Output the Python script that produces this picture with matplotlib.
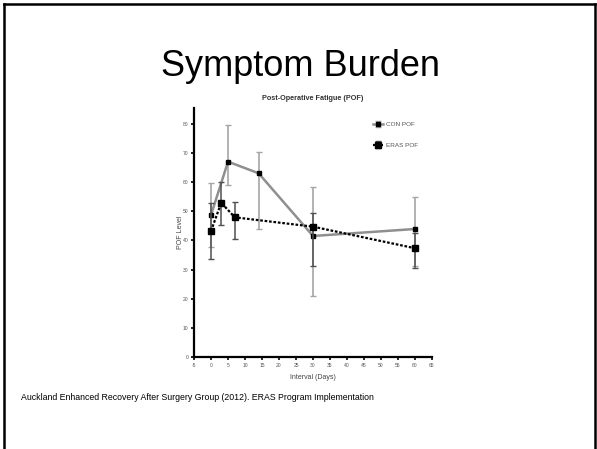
import matplotlib
matplotlib.use("Agg")
import matplotlib.pyplot as plt
from matplotlib.lines import Line2D
import numpy as np

plt.rcParams['font.family'] = ['Liberation Sans', 'DejaVu Sans']

# Data
con_x = [0, 5, 14, 30, 60]
con_y = [48.7, 67.0, 63.0, 41.5, 43.9]
con_hi = [59.6, 79.6, 70.4, 58.2, 55.0]
con_lo = [37.8, 59.0, 43.9, 20.9, 31.2]

eras_x = [0, 3, 7, 30, 60]
eras_y = [43.2, 52.9, 47.9, 44.7, 37.3]
eras_hi = [52.9, 60.1, 53.3, 49.3, 42.6]
eras_lo = [33.6, 45.3, 40.3, 31.2, 30.4]

x_ticks = list(range(-5, 70, 5))
y_ticks = list(range(0, 90, 10))

fig = plt.figure(figsize=(5.97, 4.49), dpi=100)
fig.patch.set_facecolor('white')

# slide frame
fig.add_artist(Line2D([0.006, 0.006], [0.0, 0.992], transform=fig.transFigure, color='black', lw=1.8))
fig.add_artist(Line2D([0.006, 0.996], [0.992, 0.992], transform=fig.transFigure, color='black', lw=1.8))
fig.add_artist(Line2D([0.996, 0.996], [0.0, 0.992], transform=fig.transFigure, color='black', lw=1.8))

fig.text(0.503, 0.851, "Symptom Burden", ha='center', va='center', fontsize=26, color='black')
fig.text(0.036, 0.114, "Auckland Enhanced Recovery After Surgery Group (2012). ERAS Program Implementation",
         ha='left', va='center', fontsize=6.3, color='black')

ax = fig.add_axes([0.325, 0.2049, 0.3986, 0.5546])

con_err = [np.array(con_y) - np.array(con_lo), np.array(con_hi) - np.array(con_y)]
eras_err = [np.array(eras_y) - np.array(eras_lo), np.array(eras_hi) - np.array(eras_y)]

ax.errorbar(con_x, con_y, yerr=con_err, color='#8f8f8f', lw=1.8, ecolor='#a5a5a5', elinewidth=1.2,
            capsize=2.2, capthick=1.0, marker='s', markersize=2.8, markerfacecolor='black',
            markeredgecolor='black', label='CON POF', zorder=3)
ax.errorbar(eras_x, eras_y, yerr=eras_err, color='black', lw=1.6, ls=(0, (1.2, 0.8)), ecolor='#505050',
            elinewidth=1.1, capsize=2.2, capthick=1.0, marker='s', markersize=4.3,
            markerfacecolor='black', markeredgecolor='black', label='ERAS POF', zorder=4)

ax.set_xlim(-5, 65)
ax.set_ylim(0, 85.4)
ax.set_xticks(x_ticks)
ax.set_yticks(y_ticks)
ax.set_xticklabels([str(t) for t in x_ticks], fontsize=3.6, color='#555555')
ax.set_yticklabels([str(t) for t in y_ticks], fontsize=3.6, color='#555555')
ax.tick_params(axis='both', direction='out', length=2.5, width=1.2, pad=1.5, colors='black',
               labelcolor='#555555')
for s in ['top', 'right']:
    ax.spines[s].set_visible(False)
for s in ['left', 'bottom']:
    ax.spines[s].set_linewidth(1.6)

ax.set_xlabel("Interval (Days)", fontsize=5, color='#444444', labelpad=5)
ax.set_ylabel("POF Level", fontsize=5, color='#444444', labelpad=-1)
ax.set_title("Post-Operative Fatigue (POF)", fontsize=5.2, fontweight='bold', color='#333333', pad=6)

leg = ax.legend(loc='upper left', bbox_to_anchor=(0.615, 0.742), bbox_transform=fig.transFigure,
                frameon=False, fontsize=4.6, handlelength=1.6, labelspacing=2.4, handletextpad=0.4)
for t in leg.get_texts():
    t.set_color('#555555')

fig.savefig("out.png", dpi=100, facecolor='white')
